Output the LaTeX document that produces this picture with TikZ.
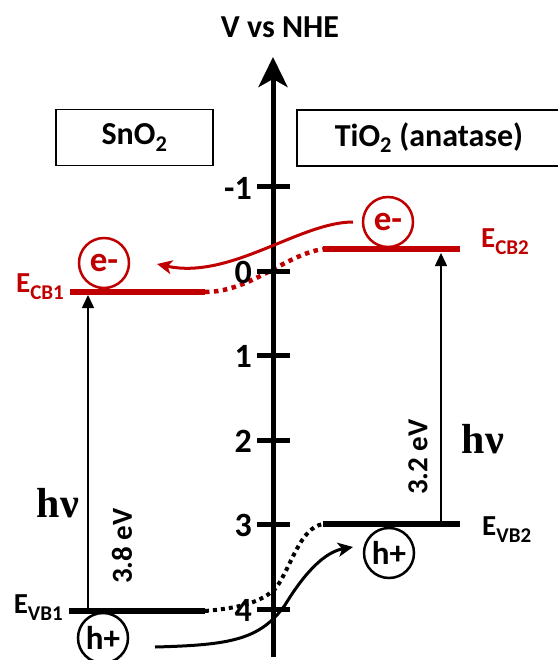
\documentclass[tikz,border=0pt]{standalone}
\usepackage{fontspec}
\setmainfont{Carlito}
\newfontfamily\hvfont{Liberation Serif}
\usetikzlibrary{arrows.meta}
\definecolor{cbred}{RGB}{192,0,0}
\newcommand\bandlabel[2]{#1\raisebox{-0.27em}{\fontsize{21}{21}\selectfont #2}}
\tikzset{
 axisline/.style={line width=5pt,-{Stealth[length=30pt,width=29pt,inset=8pt]}},
 tickmark/.style={line width=5pt},
 ticklabel/.style={anchor=east,inner sep=0pt,font=\bfseries\fontsize{34}{36}\selectfont},
 axistitle/.style={font=\bfseries\fontsize{32}{36}\selectfont,inner sep=0pt},
 matbox/.style={draw,line width=1.5pt,minimum width=157pt,minimum height=56pt,inner sep=0pt,font=\bfseries\fontsize{32}{36}\selectfont},
 matlabel/.style={inner sep=0pt,font=\bfseries\fontsize{32}{36}\selectfont},
 level/.style={line width=6pt},
 cblevel/.style={level,draw=cbred},
 reddots/.style={draw=cbred,line width=4.5pt,dash pattern=on 4.5pt off 4.5pt},
 blackdots/.style={line width=4pt,dash pattern=on 4pt off 4pt},
 electron/.style={circle,draw=cbred,text=cbred,line width=2.5pt,minimum size=50pt,inner sep=0pt,font=\bfseries\fontsize{35}{36}\selectfont},
 hole/.style={circle,draw,line width=2.5pt,minimum size=50pt,inner sep=0pt,font=\bfseries\fontsize{33}{36}\selectfont},
 gaparrow/.style={line width=1.5pt,-{Triangle[length=13pt,width=12pt]}},
 transfer/.style={line width=3pt,-{Stealth[length=15pt,width=14pt,inset=4pt]}},
 photon/.style={font=\hvfont\bfseries\fontsize{42}{46}\selectfont,inner sep=0pt},
 gaplabel/.style={rotate=90,font=\bfseries\fontsize{29}{30}\selectfont,inner sep=0pt},
 elabel/.style={inner sep=0pt,font=\bfseries\fontsize{29}{30}\selectfont},
}
\begin{document}
\begin{tikzpicture}[x=1pt,y=-1pt]
\useasboundingbox (0,0) rectangle (558,660);
% title
\node[axistitle] (vtitle) at (280,27) {V vs NHE};
% boxes
\node[matbox] (sno) at (134.5,137.5) {SnO\textsubscript{2}};
\draw[line width=1.5pt] (558,110) -- (297,110) -- (297,166) -- (558,166);
\node[matlabel] (tio) at (429,138) {TiO\textsubscript{2} (anatase)};
% level coordinates
\coordinate (cb1a) at (70,292); \coordinate (cb1b) at (205,292);
\coordinate (cb2a) at (323,249); \coordinate (cb2b) at (460,249);
\coordinate (vb1a) at (69,611); \coordinate (vb1b) at (205,611);
\coordinate (vb2a) at (323,524); \coordinate (vb2b) at (460,524);
% dotted connections
\draw[reddots] (cb1b) .. controls (250,292) and (285,255) .. (cb2a);
\draw[blackdots] (vb1b) .. controls (240,608) and (262,602) .. (276,588) .. controls (292,565) and (300,528) .. (vb2a);
% axis
\coordinate (axbot) at (273,657);
\coordinate (axtop) at (273,57);
\draw[axisline] (axbot) -- (axtop);
\foreach \i/\v in {0/-1,1/0,2/1,3/2,4/3,5/4}{
  \pgfmathsetmacro\yy{187+84.4*\i}
  \coordinate (tl\i) at (257,\yy);
  \coordinate (tr\i) at (290,\yy);
  \draw[tickmark] (tl\i) -- (tr\i);
  \node[ticklabel] (tick\i) at (252,\yy+1) {\v};
}
% levels
\draw[cblevel] (cb1a) -- (cb1b);
\draw[cblevel] (cb2a) -- (cb2b);
\draw[level] (vb1a) -- (vb1b);
\draw[level] (vb2a) -- (vb2b);
% carriers
\node[electron] (e1) at (104,263) {e-};
\node[electron] (e2) at (388,222) {e-};
\node[hole] (h1) at (103,638) {h+};
\node[hole] (h2) at (389,553) {h+};
% band gap arrows
\coordinate (g1s) at (88,611); \coordinate (g1e) at (88,295);
\draw[gaparrow] (g1s) -- (g1e);
\coordinate (g2s) at (441,524); \coordinate (g2e) at (441,253);
\draw[gaparrow] (g2s) -- (g2e);
% labels
\node[photon] (hv1) at (58,503) {hν};
\node[photon] (hv2) at (483,439) {hν};
\node[gaplabel] (gap1) at (122,546) {3.8 eV};
\node[gaplabel] (gap2) at (418,457) {3.2 eV};
\node[elabel,text=cbred,anchor=base east] (lcb1) at (64,292) {\bandlabel{E}{CB1}};
\node[elabel,text=cbred,anchor=base west] (lcb2) at (481,247) {\bandlabel{E}{CB2}};
\node[elabel,anchor=base east] (lvb1) at (63,613) {\bandlabel{E}{VB1}};
\node[elabel,anchor=base west] (lvb2) at (482,535) {\bandlabel{E}{VB2}};
% charge transfer
\coordinate (rstart) at (353,222); \coordinate (rtip) at (157,264);
\draw[transfer,cbred] (rstart) .. controls (300,222) and (230,280) .. (rtip);
\coordinate (bstart) at (155,647); \coordinate (btip) at (353,547);
\draw[transfer] (bstart) .. controls (230,645) and (260,640) .. (285,605) .. controls (305,572) and (325,552) .. (btip);
\end{tikzpicture}
\end{document}
